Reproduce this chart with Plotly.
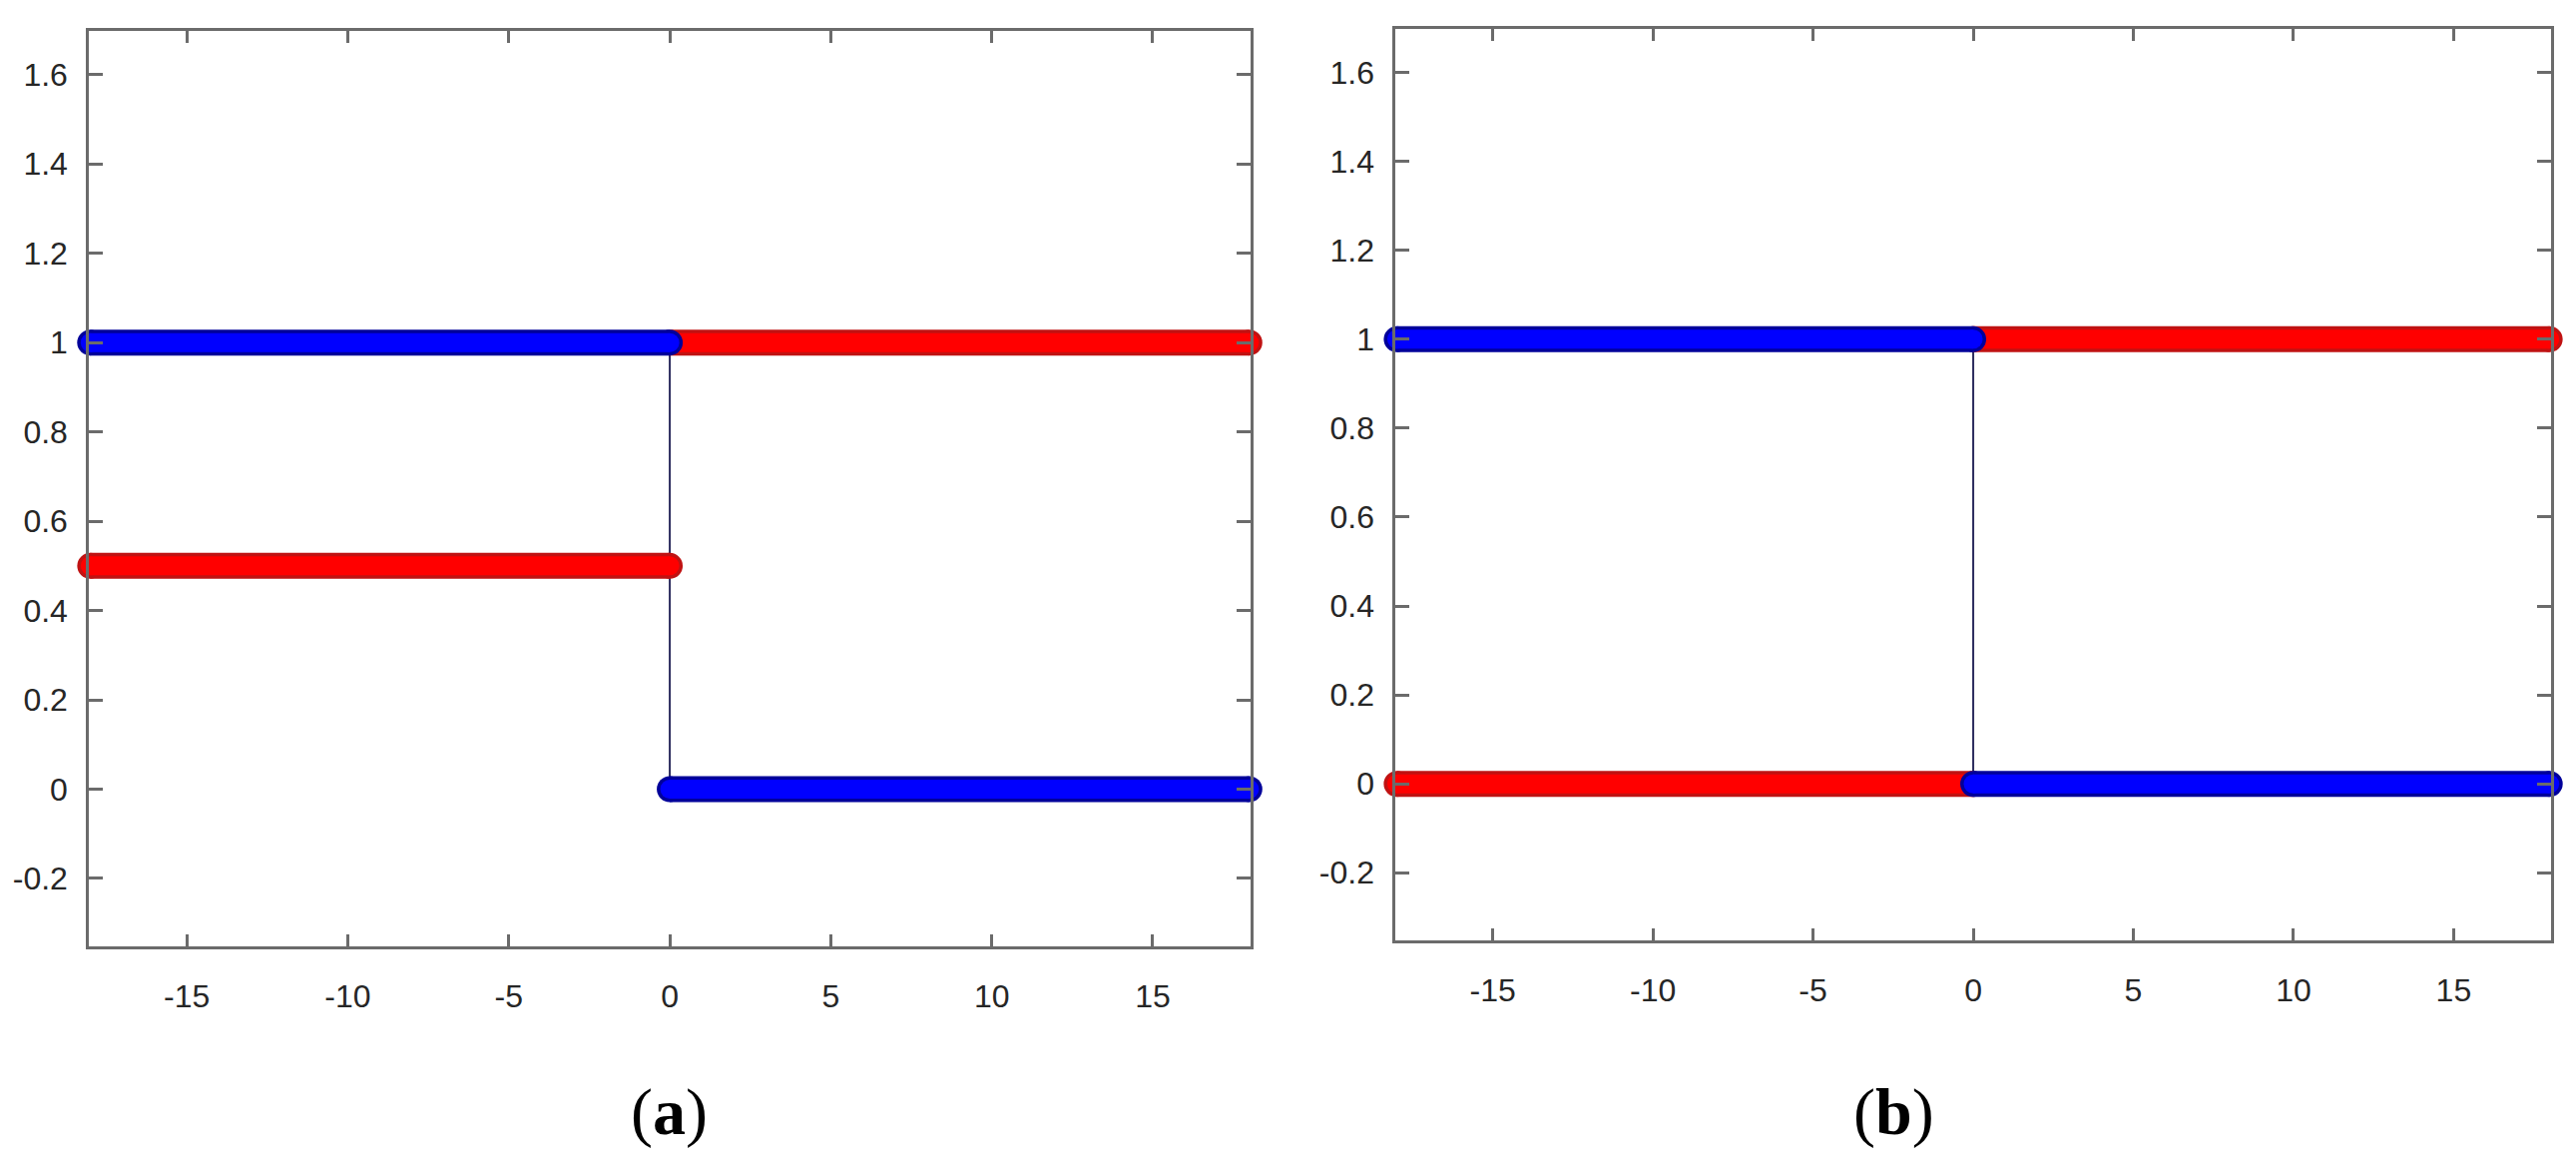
import plotly.graph_objects as go

# panel (a): thick coloured runs, split by None into segments
a_blue_x = [-18, 0, None, 0, 18]
a_blue_y = [1, 1, None, 0, 0]
a_red_x = [-18, 0, None, 0, 18]
a_red_y = [0.5, 0.5, None, 1, 1]

# panel (b)
b_blue_x = [-18, 0, None, 0, 18]
b_blue_y = [1, 1, None, 0, 0]
b_red_x = [-18, 0, None, 0, 18]
b_red_y = [0, 0, None, 1, 1]

# thin vertical jump at x = 0, same in both panels
jump_x = [0, 0]
jump_y = [1, 0]

x_ticks = [-15, -10, -5, 0, 5, 10, 15]
x_labels = ["-15", "-10", "-5", "0", "5", "10", "15"]
y_ticks = [-0.2, 0, 0.2, 0.4, 0.6, 0.8, 1, 1.2, 1.4, 1.6]
y_labels = ["-0.2", "0", "0.2", "0.4", "0.6", "0.8", "1", "1.2", "1.4", "1.6"]

BLUE, BLUE_EDGE = "#0000ff", "#00009a"
RED, RED_EDGE = "#ff0000", "#c01212"
JUMP = "#2c2c5e"
AXIS = "#6b6b6b"


def thick(fig, x, y, color, edge, xa, ya):
    # dark band underneath, bright band on top -> outlined thick line with round ends
    fig.add_trace(go.Scatter(
        x=x, y=y, mode="lines+markers", xaxis=xa, yaxis=ya,
        line=dict(color=edge, width=26),
        marker=dict(color=edge, size=26, line=dict(width=0)),
        cliponaxis=False, showlegend=False, hoverinfo="skip"
    ))
    fig.add_trace(go.Scatter(
        x=x, y=y, mode="lines+markers", xaxis=xa, yaxis=ya,
        line=dict(color=color, width=19),
        marker=dict(color=color, size=19, line=dict(width=0)),
        cliponaxis=False, showlegend=False, hoverinfo="skip"
    ))


fig = go.Figure()

panels = [
    ("x", "y", a_blue_x, a_blue_y, a_red_x, a_red_y),
    ("x2", "y2", b_blue_x, b_blue_y, b_red_x, b_red_y),
]
for xa, ya, bx, by, rx, ry in panels:
    fig.add_trace(go.Scatter(
        x=jump_x, y=jump_y, mode="lines", xaxis=xa, yaxis=ya,
        line=dict(color=JUMP, width=2), showlegend=False, hoverinfo="skip"
    ))
    thick(fig, rx, ry, RED, RED_EDGE, xa, ya)
    thick(fig, bx, by, BLUE, BLUE_EDGE, xa, ya)

tick_font = dict(family="Liberation Sans, Arial, sans-serif", size=32, color="#262626")
common = dict(
    showgrid=False, zeroline=False, showline=True, linecolor=AXIS, linewidth=2.5,
    mirror="ticks", ticks="inside", tickcolor=AXIS, tickwidth=2.5,
    tickfont=tick_font, fixedrange=True
)
xcommon = dict(common, range=[-18.04, 18.04], tickvals=x_ticks, ticktext=x_labels,
               ticklen=12, ticklabelstandoff=20)
ycommon = dict(common, range=[-0.352, 1.698], tickvals=y_ticks, ticktext=y_labels,
               ticklen=14, ticklabelstandoff=12)

label_font = dict(family="Liberation Serif, Times New Roman, serif", size=66, color="black")

fig.update_layout(
    width=2581,
    height=1168,
    paper_bgcolor="white",
    plot_bgcolor="white",
    margin=dict(l=0, r=0, t=0, b=0),
    xaxis=dict(xcommon, domain=[0.0345, 0.4855], anchor="y"),
    yaxis=dict(ycommon, domain=[0.1884, 0.9735], anchor="x"),
    xaxis2=dict(xcommon, domain=[0.5417, 0.9903], anchor="y2"),
    yaxis2=dict(ycommon, domain=[0.1935, 0.9752], anchor="x2"),
    annotations=[
        dict(text="(<b>a</b>)", x=0.2441, y=0.046, xref="paper", yref="paper",
             yanchor="middle", showarrow=False, font=label_font),
        dict(text="(<b>b</b>)", x=0.7517, y=0.046, xref="paper", yref="paper",
             yanchor="middle", showarrow=False, font=label_font),
    ],
)

fig.write_html("out.html", config={"displayModeBar": False},
               post_script="document.body.style.margin='0';")
